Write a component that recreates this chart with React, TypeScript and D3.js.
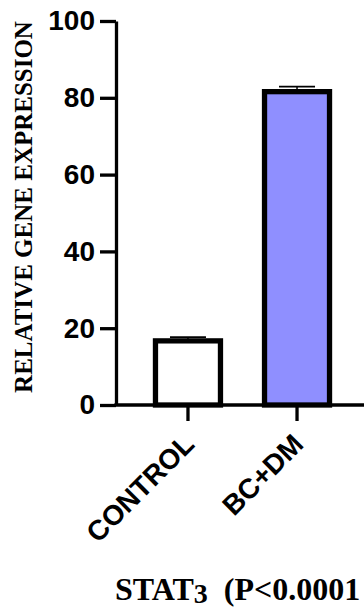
import React, { useEffect, useRef } from 'react';
import * as d3 from 'd3';

const categories = ['CONTROL', 'BC+DM'];
const means = [16.7, 81.6];
const errors = [1.0, 1.3];
const fills = ['#ffffff', '#8f8fff'];
const yTicks = [0, 20, 40, 60, 80, 100];

const App: React.FC = () => {
    const svgRef = useRef<SVGSVGElement>(null);

    useEffect(() => {
        if (!svgRef.current) return;

        const width = 364;
        const axisX = 116;

        const svg = d3.select(svgRef.current);
        svg.selectAll('*').remove();

        const data = categories.map((c, i) => ({ name: c, value: means[i], err: errors[i], fill: fills[i] }));

        const x = d3.scaleBand<string>()
            .domain(categories)
            .range([axisX, 369])
            .paddingInner(0.404)
            .paddingOuter(0.362);

        const y = d3.scaleLinear()
            .domain([0, 100])
            .range([405, 21]);

        // Bars
        svg.append('g')
            .selectAll('rect')
            .data(data)
            .enter()
            .append('rect')
            .attr('x', d => x(d.name)!)
            .attr('y', d => y(d.value))
            .attr('width', x.bandwidth())
            .attr('height', d => y(0) - y(d.value))
            .attr('fill', d => d.fill)
            .attr('stroke', '#000')
            .attr('stroke-width', 5.3);

        // Error bars (upper only)
        const eb = svg.append('g').selectAll('g').data(data).enter().append('g');
        eb.append('line')
            .attr('x1', d => x(d.name)! + x.bandwidth() / 2)
            .attr('x2', d => x(d.name)! + x.bandwidth() / 2)
            .attr('y1', d => y(d.value))
            .attr('y2', d => y(d.value + d.err))
            .attr('stroke', '#000')
            .attr('stroke-width', 1.5);
        eb.append('line')
            .attr('x1', d => x(d.name)! + x.bandwidth() / 2 - 18)
            .attr('x2', d => x(d.name)! + x.bandwidth() / 2 + 18)
            .attr('y1', d => y(d.value + d.err))
            .attr('y2', d => y(d.value + d.err))
            .attr('stroke', '#000')
            .attr('stroke-width', 1.8);

        // Y axis
        const yAxis = svg.append('g')
            .attr('transform', `translate(${axisX}, 0)`)
            .call(d3.axisLeft(y).tickValues(yTicks).tickSize(16).tickSizeOuter(0).tickPadding(5));
        yAxis.select('.domain').attr('stroke-width', 3.3);
        yAxis.selectAll('.tick line').attr('stroke-width', 3.3);
        yAxis.selectAll('.tick text')
            .attr('font-family', 'Liberation Sans, Arial, sans-serif')
            .attr('font-weight', 'bold')
            .attr('font-size', 28)
            .attr('fill', '#000');

        // X axis
        const xAxis = svg.append('g')
            .attr('transform', `translate(0, ${y(0)})`)
            .call(d3.axisBottom(x).tickSize(16).tickSizeOuter(0));
        xAxis.select('.domain').attr('stroke-width', 3.3).attr('d', `M${axisX - 1.6},0H${width + 10}`);
        xAxis.selectAll('.tick line').attr('stroke-width', 3.3);
        xAxis.selectAll('.tick text')
            .attr('font-family', 'Liberation Sans, Arial, sans-serif')
            .attr('font-weight', 'bold')
            .attr('font-size', 28)
            .attr('fill', '#000')
            .attr('x', 0)
            .attr('y', 0)
            .attr('dy', 0)
            .style('text-anchor', 'end')
            .attr('transform', 'translate(8, 41) rotate(-45)');

        // Y label
        svg.append('text')
            .attr('transform', `translate(32, 207) rotate(-90)`)
            .attr('text-anchor', 'middle')
            .attr('font-family', 'Liberation Serif, Times New Roman, serif')
            .attr('font-weight', 'bold')
            .attr('font-size', 25)
            .attr('fill', '#000')
            .text('RELATIVE GENE EXPRESSION');

        // Title (the reference image cuts it at the right edge)
        const title = svg.append('text')
            .attr('x', 115)
            .attr('y', 600)
            .attr('font-family', 'Liberation Serif, Times New Roman, serif')
            .attr('font-weight', 'bold')
            .attr('font-size', 32)
            .attr('fill', '#000');
        title.append('tspan').text('STAT');
        title.append('tspan').attr('font-size', 28).attr('dy', 3).text('3');
        title.append('tspan').attr('dy', -3).text('\u00a0\u00a0(P<0.0001');
    }, []);

    return (
        <svg ref={svgRef} width={364} height={611} style={{ position: 'absolute', left: 0, top: 0, background: '#fff' }}></svg>
    );
};

export default App;
